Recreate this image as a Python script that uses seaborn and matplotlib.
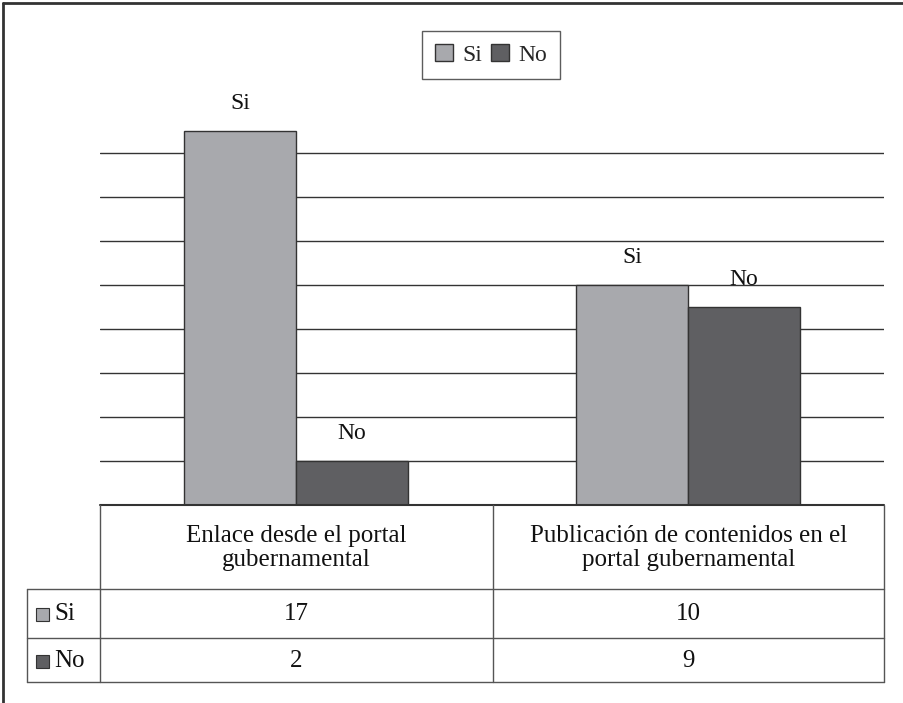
import pandas as pd
import seaborn as sns
import matplotlib.pyplot as plt
from matplotlib.patches import Patch, Rectangle

categories = ["Enlace desde el portal\ngubernamental",
              "Publicación de contenidos en el\nportal gubernamental"]
responses = ["Si", "No"]
si_values = [17, 10]
no_values = [2, 9]
colors = {"Si": "#a8a9ad", "No": "#5f5f62"}

df = pd.DataFrame({
    "categoria": categories * 2,
    "respuesta": ["Si"] * 2 + ["No"] * 2,
    "valor": si_values + no_values,
})

sns.set_style("white")
plt.rcParams["font.family"] = ["Liberation Serif", "DejaVu Serif"]

W, H = 904, 703
fig = plt.figure(figsize=(W / 100, H / 100), dpi=100)

# main bar axes (pixel box: x 100-884, y 109-505)
ax = fig.add_axes([100 / W, 1 - 505 / H, 784 / W, 396 / H])
for y in range(2, 18, 2):
    ax.axhline(y, color="#333333", lw=1, zorder=0)
sns.barplot(data=df, x="categoria", y="valor", hue="respuesta",
            hue_order=responses, palette=colors, width=0.57,
            edgecolor="#333333", linewidth=1, saturation=1,
            legend=False, ax=ax, zorder=2)
ax.set_xlim(-0.5, 1.5)
ax.set_ylim(0, 18)
ax.set_xticks([])
ax.set_yticks([])
ax.set_xlabel("")
ax.set_ylabel("")
for s in ax.spines.values():
    s.set_visible(False)

for resp, cont in zip(responses, ax.containers):
    for bar in cont:
        ax.text(bar.get_x() + bar.get_width() / 2, bar.get_height() + 1.25,
                resp, ha="center", va="center", fontsize=17, color="#111111")

fig.legend(handles=[Patch(facecolor=colors[r], edgecolor="#333333", label=r)
                    for r in responses],
           loc="center", bbox_to_anchor=(491 / W, 1 - 55 / H), ncol=2,
           fontsize=17, handlelength=0.75, handleheight=0.75, handletextpad=0.4,
           columnspacing=0.4, frameon=True, fancybox=False, edgecolor="#333333",
           borderpad=0.55)

# overlay axes in pixel coordinates for the data table and frame
tx = fig.add_axes([0, 0, 1, 1])
tx.set_xlim(0, W)
tx.set_ylim(H, 0)
tx.axis("off")
lc = "#555555"
tx.plot([3, 3], [3, H], color="#333333", lw=2)
tx.plot([3, W], [3, 3], color="#333333", lw=2)
tx.plot([100, 884], [505, 505], color="#333333", lw=1.5)
for y in [589, 638, 682]:
    tx.plot([27, 884], [y, y], color=lc, lw=1)
tx.plot([27, 27], [589, 682], color=lc, lw=1)
for x in [100, 493, 884]:
    tx.plot([x, x], [505, 682], color=lc, lw=1)

col_centers = [296.5, 688.5]
for xc, cat in zip(col_centers, categories):
    tx.text(xc, 548, cat, ha="center", va="center", fontsize=18,
            linespacing=1.1, color="#111111")
row_centers = {"Si": 614, "No": 661}
row_vals = {"Si": si_values, "No": no_values}
for r in responses:
    yc = row_centers[r]
    tx.add_patch(Rectangle((36, yc - 6.5), 13, 13, facecolor=colors[r],
                           edgecolor="#333333", lw=0.8))
    tx.text(54, yc, r, ha="left", va="center", fontsize=18, color="#111111")
    for xc, v in zip(col_centers, row_vals[r]):
        tx.text(xc, yc, str(v), ha="center", va="center", fontsize=18,
                color="#111111")

fig.savefig("out.png", dpi=100)
